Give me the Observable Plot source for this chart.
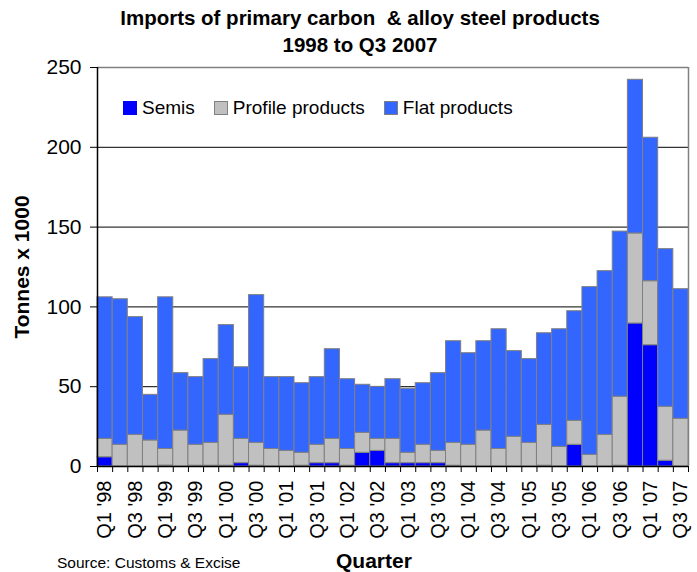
<!DOCTYPE html>
<html>
<head>
<meta charset="utf-8">
<script src="https://cdn.jsdelivr.net/npm/d3@7"></script>
<script src="https://cdn.jsdelivr.net/npm/@observablehq/plot@0.6"></script>
<style>
  html, body { margin: 0; padding: 0; background: #fff; }
  body { width: 697px; height: 572px; position: relative; overflow: hidden; font-family: "Liberation Sans", Arial, sans-serif; }
  #title { position: absolute; left: 0; top: 4px; width: 720px; text-align: center; font-weight: bold; font-size: 20.5px; line-height: 27px; color: #000; }
  #chart { position: absolute; left: 0; top: 60px; }
  #legend { position: absolute; top: 97px; left: 123px; font-size: 19px; color: #000; white-space: nowrap; }
  #legend span.item { display: inline-block; margin-right: 19px; }
  #legend span.sw { display: inline-block; width: 14px; height: 14px; margin-right: 5px; vertical-align: -1px; box-sizing: border-box; }
  #source { position: absolute; left: 57px; top: 555px; font-size: 15.5px; line-height: 16px; color: #000; }
  #xtitle { position: absolute; left: 336px; top: 550px; font-size: 21px; line-height: 21px; font-weight: bold; color: #000; }
</style>
</head>
<body>
<div id="title">Imports of primary carbon &nbsp;&amp; alloy steel products<br>1998 to Q3 2007</div>
<div id="chart"></div>
<div id="legend"></div>
<div id="source">Source: Customs &amp; Excise</div>
<div id="xtitle">Quarter</div>
<script>
const quarters = [
  "Q1 '98","Q2 '98","Q3 '98","Q4 '98",
  "Q1 '99","Q2 '99","Q3 '99","Q4 '99",
  "Q1 '00","Q2 '00","Q3 '00","Q4 '00",
  "Q1 '01","Q2 '01","Q3 '01","Q4 '01",
  "Q1 '02","Q2 '02","Q3 '02","Q4 '02",
  "Q1 '03","Q2 '03","Q3 '03","Q4 '03",
  "Q1 '04","Q2 '04","Q3 '04","Q4 '04",
  "Q1 '05","Q2 '05","Q3 '05","Q4 '05",
  "Q1 '06","Q2 '06","Q3 '06","Q4 '06",
  "Q1 '07","Q2 '07","Q3 '07"
];
const seriesNames = ["Semis", "Profile products", "Flat products"];
const seriesColors = ["#0000FF", "#C0C0C0", "#3366FF"];

const semis = [5.8,0,0,0, 0.6,0,0.5,0.5, 0.5,2.1,0.5,0, 0,0.5,2.1,2.1, 0.5,8.6,9.8,2.1,
  2.1,2.1,2.1,0.5, 0,0,0,0, 0,0.5,0,13.6, 0,0,0.5,89.6, 76,3.6,0];
const profile = [11.5,13.6,19.8,16.3, 10.4,22.5,13.1,14.3, 31.9,15.2,14.3,11, 9.8,8.1,11.5,15.2,
  10.5,12.5,7.5,15.2, 6.5,11.5,7.7,14.3, 13.6,22.5,11,18.6, 14.8,25.6,12.3,15,
  7.3,19.8,43.2,56.4, 40.1,33.8,29.9];
const flat = [88.7,91.2,73.8,28.6, 95,36,42.4,52.5, 56.2,44.9,92.6,45, 46.2,43.6,42.4,56.2,
  43.7,30.1,32.6,37.4, 40.1,38.6,48.7,63.7, 57.4,56,75,53.7, 52.5,57.4,73.7,68.7,
  105.1,102.6,103.5,96.3, 89.9,98.8,81.2];
const yTicks = [0, 50, 100, 150, 200, 250];

const rows = [];
quarters.forEach((q, i) => {
  [semis, profile, flat].forEach((arr, s) => {
    rows.push({i, quarter: q, series: seriesNames[s], order: s, value: arr[i]});
  });
});

const font = "Liberation Sans, Arial, sans-serif";
const n = quarters.length;

const chart = Plot.plot({
  width: 697,
  height: 512,
  marginTop: 7,
  marginBottom: 106,
  marginLeft: 97,
  marginRight: 9,
  style: {fontFamily: font, fontSize: "17px", color: "#000", background: "#fff", overflow: "visible"},
  x: {type: "linear", domain: [0, n], axis: null},
  y: {domain: [0, 250], axis: null},
  color: {domain: seriesNames, range: seriesColors},
  marks: [
    Plot.ruleY(yTicks.filter(d => d > 0 && d < 250), {stroke: "#000", strokeWidth: 1}),
    Plot.ruleY([250], {stroke: "#808080", strokeWidth: 1.5}),
    Plot.ruleX([n], {stroke: "#808080", strokeWidth: 1.5}),
    Plot.rectY(rows, {
      x1: "i",
      x2: d => d.i + 1,
      y: "value",
      fill: "series",
      order: seriesNames,
      stroke: "#808080",
      strokeWidth: 1,
      insetLeft: 0, insetRight: 0
    }),
    Plot.ruleX([0], {stroke: "#000", strokeWidth: 1.5}),
    Plot.ruleY([0], {stroke: "#000", strokeWidth: 1.5}),
    Plot.axisY({ticks: yTicks, tickSize: 7, tickPadding: 9, label: null, fontSize: 21, tickFormat: d => d}),
    Plot.axisX({ticks: d3.range(0, n + 1), tickSize: 6, tickFormat: () => "", label: null}),
    Plot.axisX({
      ticks: d3.range(0.5, n, 2),
      tickSize: 0,
      tickPadding: 14,
      tickRotate: -90,
      fontSize: 20,
      tickFormat: d => quarters[Math.round(d - 0.5)],
      label: null
    }),
    Plot.text(["Tonnes x 1000"], {
      frameAnchor: "left",
      dx: -75,
      rotate: -90,
      textAnchor: "middle",
      fontWeight: "bold",
      fontSize: 21,
      fill: "#000"
    })
  ]
});
document.getElementById("chart").appendChild(chart);

const legend = document.getElementById("legend");
seriesNames.forEach((name, k) => {
  const item = document.createElement("span");
  item.className = "item";
  const sw = document.createElement("span");
  sw.className = "sw";
  sw.style.background = seriesColors[k];
  if (k > 0) sw.style.border = "1px solid #808080";
  item.appendChild(sw);
  item.appendChild(document.createTextNode(name));
  legend.appendChild(item);
});
</script>
</body>
</html>
